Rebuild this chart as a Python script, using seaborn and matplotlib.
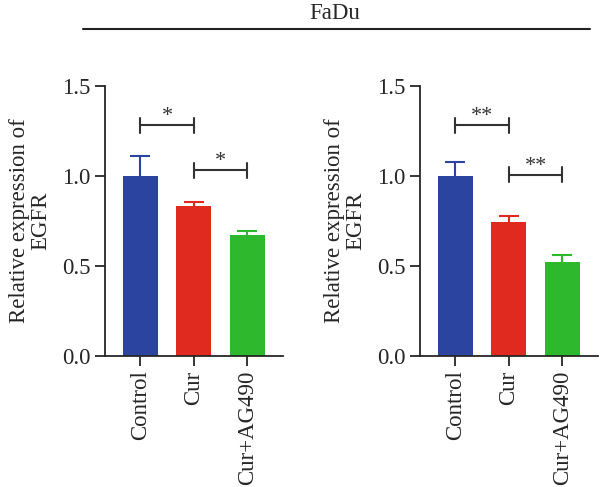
import matplotlib
matplotlib.use("Agg")
import pandas as pd
import seaborn as sns
from matplotlib import pyplot as plt
from matplotlib.lines import Line2D

groups = ["Control", "Cur", "Cur+AG490"]
left_means = [1.00, 0.833, 0.67]
left_errs = [0.11, 0.024, 0.024]
right_means = [1.00, 0.746, 0.522]
right_errs = [0.08, 0.034, 0.037]
left_stars = ["*", "*"]
right_stars = ["**", "**"]
left_bracket_y = [1.283, 1.033]
right_bracket_y = [1.283, 1.006]
colors = ["#2B44A0", "#E02A20", "#2DB82D"]

sns.set_style("ticks")
plt.rcParams["font.family"] = ["Liberation Serif", "DejaVu Serif"]
plt.rcParams["font.size"] = 16.5

fig = plt.figure(figsize=(6, 4.87), dpi=100)
ax_l = fig.add_axes([0.175, 0.269, 0.297, 0.5544])
ax_r = fig.add_axes([0.700, 0.269, 0.297, 0.5544])


def draw_panel(ax, means, errs, stars, bracket_y):
    df = pd.DataFrame({"group": groups, "value": means})
    sns.barplot(data=df, x="group", y="value", hue="group", palette=colors,
                width=0.65, legend=False, ax=ax, saturation=1, linewidth=0)
    for p in ax.patches:
        p.set_zorder(3)
    # upper-only error bars (SD), same colour as the bar, kept behind the bar
    for i, (m, e) in enumerate(zip(means, errs)):
        ax.plot([i, i], [m, m + e], color=colors[i], lw=1.5, zorder=1)
        ax.plot(i, m + e, marker="_", ms=14, mew=1.5, color=colors[i],
                zorder=1)
    # significance brackets: Control vs Cur, Cur vs Cur+AG490
    for (a, b), s, y in zip([(0, 1), (1, 2)], stars, bracket_y):
        ax.plot([a, b], [y, y], color="#333333", lw=1.5)
        ax.plot([a, a], [y - 0.042, y + 0.042], color="#333333", lw=1.5)
        ax.plot([b, b], [y - 0.042, y + 0.042], color="#333333", lw=1.5)
        ax.text((a + b) / 2, y - 0.005, s, ha="center", va="bottom",
                fontsize=16, color="#333333")
    ax.set_ylim(0, 1.5)
    ax.set_xlim(-0.66, 2.67)
    ax.set_yticks([0, 0.5, 1.0, 1.5])
    ax.set_yticklabels(["0.0", "0.5", "1.0", "1.5"])
    ax.set_xlabel("")
    ax.set_ylabel("Relative expression of\nEGFR", fontsize=16.5, labelpad=8,
                  linespacing=1.0)
    ax.tick_params(axis="x", rotation=90, length=7, width=1.3, labelsize=16.5)
    ax.tick_params(axis="y", length=7, width=1.3, labelsize=16.5)
    for sp in ["left", "bottom"]:
        ax.spines[sp].set_linewidth(1.3)
        ax.spines[sp].set_zorder(4)
    sns.despine(ax=ax)


draw_panel(ax_l, left_means, left_errs, left_stars, left_bracket_y)
draw_panel(ax_r, right_means, right_errs, right_stars, right_bracket_y)

fig.text(0.558, 0.973, "FaDu", ha="center", va="center", fontsize=16.5)
fig.add_artist(Line2D([0.138, 0.983], [0.940, 0.940], color="#222222",
                      lw=1.5, transform=fig.transFigure))

fig.savefig("out.png", dpi=100)
